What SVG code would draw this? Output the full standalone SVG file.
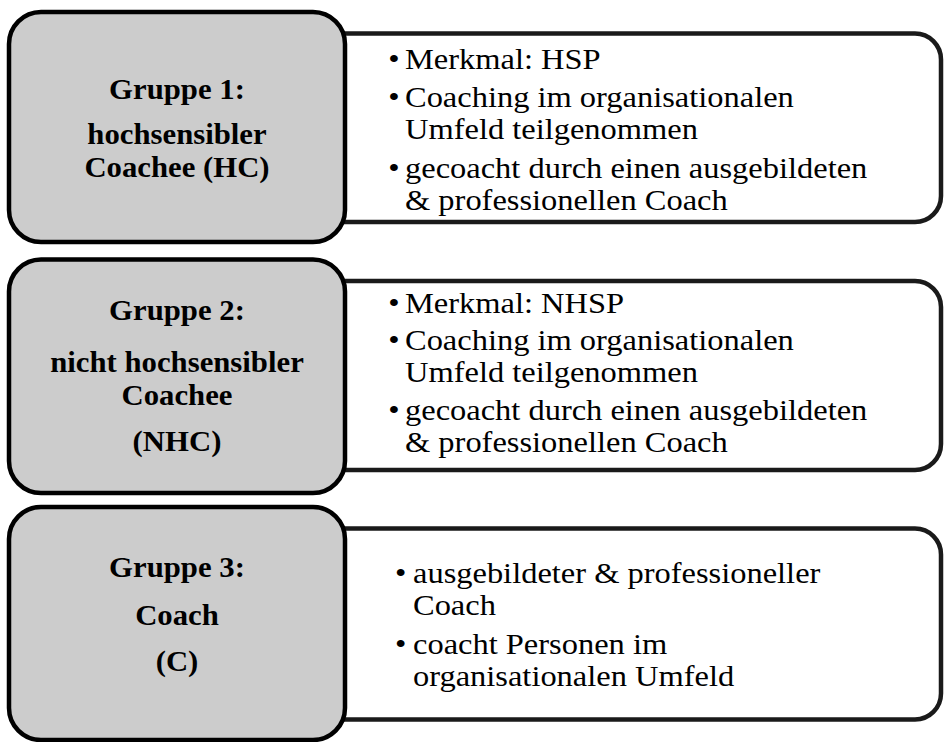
<svg xmlns="http://www.w3.org/2000/svg" width="944" height="742" viewBox="0 0 944 742">
<style>
.g{fill:#cccccc;stroke:#000;stroke-width:4.5}
.w{fill:#fff;stroke:#1a1a1a;stroke-width:4.5}
.t{font-family:"Liberation Serif","Times New Roman",serif;font-size:29px;font-weight:bold;fill:#000;text-anchor:middle}
.b{font-family:"Liberation Serif","Times New Roman",serif;font-size:29px;fill:#000}
</style>
<rect width="944" height="742" fill="#fff"/>
<g id="connectors"></g>
<g id="row1">
<rect class="w" x="300" y="33.5" width="641" height="188.5" rx="26"/>
<rect class="g" x="9" y="12" width="336" height="230" rx="32"/>
<g transform="translate(177 0) scale(1.06 1)">
<text class="t" x="0" y="99">Gruppe 1:</text>
<text class="t" x="0" y="144">hochsensibler</text>
<text class="t" x="0" y="177">Coachee (HC)</text>
</g>
<g transform="translate(405 0) scale(1.12 1)">
<text class="b" x="-15" y="69">•</text><text class="b" x="0" y="69">Merkmal: HSP</text>
<text class="b" x="-15" y="107">•</text><text class="b" x="0" y="107">Coaching im organisationalen</text>
<text class="b" x="0" y="139">Umfeld teilgenommen</text>
<text class="b" x="-15" y="178">•</text><text class="b" x="0" y="178">gecoacht durch einen ausgebildeten</text>
<text class="b" x="0" y="210">&amp; professionellen Coach</text>
</g>
</g>
<g id="row2">
<rect class="w" x="300" y="281" width="641" height="189" rx="26"/>
<rect class="g" x="9" y="259.5" width="336" height="233.5" rx="32"/>
<g transform="translate(177 0) scale(1.06 1)">
<text class="t" x="0" y="320">Gruppe 2:</text>
<text class="t" x="0" y="372">nicht hochsensibler</text>
<text class="t" x="0" y="405">Coachee</text>
<text class="t" x="0" y="451">(NHC)</text>
</g>
<g transform="translate(405 0) scale(1.12 1)">
<text class="b" x="-15" y="313">•</text><text class="b" x="0" y="313">Merkmal: NHSP</text>
<text class="b" x="-15" y="350">•</text><text class="b" x="0" y="350">Coaching im organisationalen</text>
<text class="b" x="0" y="382">Umfeld teilgenommen</text>
<text class="b" x="-15" y="420">•</text><text class="b" x="0" y="420">gecoacht durch einen ausgebildeten</text>
<text class="b" x="0" y="452">&amp; professionellen Coach</text>
</g>
</g>
<g id="row3">
<rect class="w" x="300" y="528.5" width="641" height="191" rx="26"/>
<rect class="g" x="9" y="507" width="336" height="233" rx="32"/>
<g transform="translate(177 0) scale(1.06 1)">
<text class="t" x="0" y="577">Gruppe 3:</text>
<text class="t" x="0" y="625">Coach</text>
<text class="t" x="0" y="671">(C)</text>
</g>
<g transform="translate(413 0) scale(1.12 1)">
<text class="b" x="-16" y="583">•</text><text class="b" x="0" y="583">ausgebildeter &amp; professioneller</text>
<text class="b" x="0" y="615">Coach</text>
<text class="b" x="-16" y="654">•</text><text class="b" x="0" y="654">coacht Personen im</text>
<text class="b" x="0" y="686">organisationalen Umfeld</text>
</g>
</g>
</svg>
